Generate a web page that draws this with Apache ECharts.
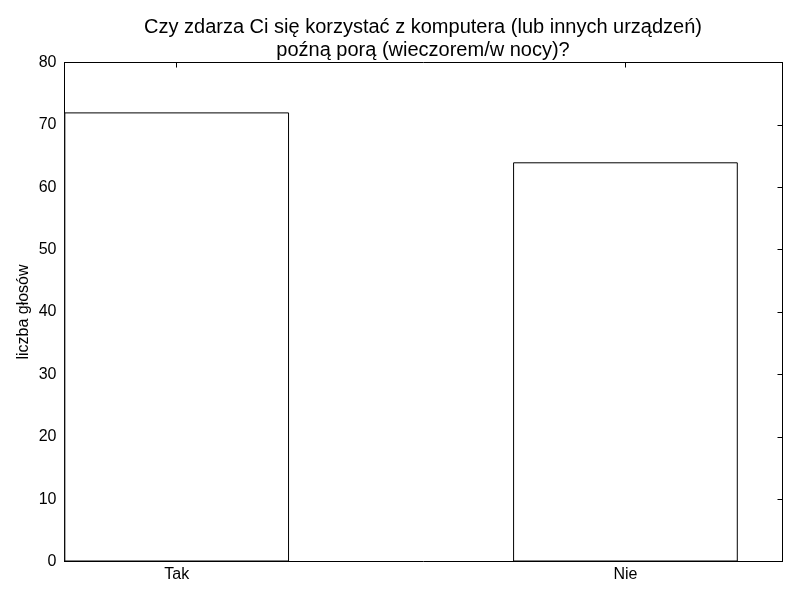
<!DOCTYPE html>
<html>
<head>
<meta charset="utf-8">
<script src="https://cdn.jsdelivr.net/npm/echarts@6/dist/echarts.min.js"></script>
<style>html,body{margin:0;padding:0;background:#fff}#c{width:800px;height:600px}</style>
</head>
<body>
<div id="c"></div>
<script>
var categories = ['Tak', 'Nie'];
var positions = [0, 1];
var values = [72, 64];
var yTicks = [0, 10, 20, 30, 40, 50, 60, 70, 80];
var titleText = 'Czy zdarza Ci się korzystać z komputera (lub innych urządzeń)\npoźną porą (wieczorem/w nocy)?';
var yName = 'liczba głosów';

var font = 'Liberation Sans, Arial, sans-serif';
var chart = echarts.init(document.getElementById('c'), null, {renderer: 'canvas'});
var lineStyle = {color: '#000', width: 1};
var data = positions.map(function (p, i) { return [p, values[i]]; });

chart.setOption({
  animation: false,
  backgroundColor: '#fff',
  title: {
    text: titleText,
    left: 418,
    textAlign: 'center',
    top: 11,
    textStyle: {fontFamily: font, fontSize: 20, fontWeight: 'normal', color: '#000', lineHeight: 23}
  },
  grid: {left: 64.5, right: 17.5, top: 62.5, bottom: 38.5, containLabel: false},
  xAxis: [{
    type: 'value', min: -0.25, max: 1.35, position: 'bottom',
    axisLine: {show: true, onZero: false, lineStyle: lineStyle},
    axisTick: {show: true, inside: true, length: 5, lineStyle: lineStyle, customValues: positions},
    axisLabel: {show: true, customValues: positions, color: '#000', fontFamily: font, fontSize: 16, margin: 5,
      formatter: function (v) { var i = positions.indexOf(v); return i >= 0 ? categories[i] : ''; }},
    splitLine: {show: false}
  }, {
    type: 'value', min: -0.25, max: 1.35, position: 'top',
    axisLine: {show: true, onZero: false, lineStyle: lineStyle},
    axisTick: {show: true, inside: true, length: 5, lineStyle: lineStyle, customValues: positions},
    axisLabel: {show: false},
    splitLine: {show: false}
  }],
  yAxis: [{
    type: 'value', min: 0, max: 80, interval: 10, position: 'left',
    name: yName, nameLocation: 'middle', nameGap: 33, nameMoveOverlap: false,
    nameTextStyle: {fontFamily: font, fontSize: 16, color: '#000'},
    axisLine: {show: true, onZero: false, lineStyle: lineStyle},
    axisTick: {show: true, inside: true, length: 5, lineStyle: lineStyle},
    axisLabel: {color: '#000', fontFamily: font, fontSize: 16, margin: 8},
    splitLine: {show: false}
  }, {
    type: 'value', min: 0, max: 80, interval: 10, position: 'right',
    axisLine: {show: true, onZero: false, lineStyle: lineStyle},
    axisTick: {show: true, inside: true, length: 5, lineStyle: lineStyle},
    axisLabel: {show: false},
    splitLine: {show: false}
  }],
  series: [{
    type: 'bar',
    xAxisIndex: 0, yAxisIndex: 0,
    data: data,
    barWidth: 224.7,
    itemStyle: {color: '#fff', borderColor: '#000', borderWidth: 1},
    emphasis: {disabled: true}
  }]
});
</script>
</body>
</html>
